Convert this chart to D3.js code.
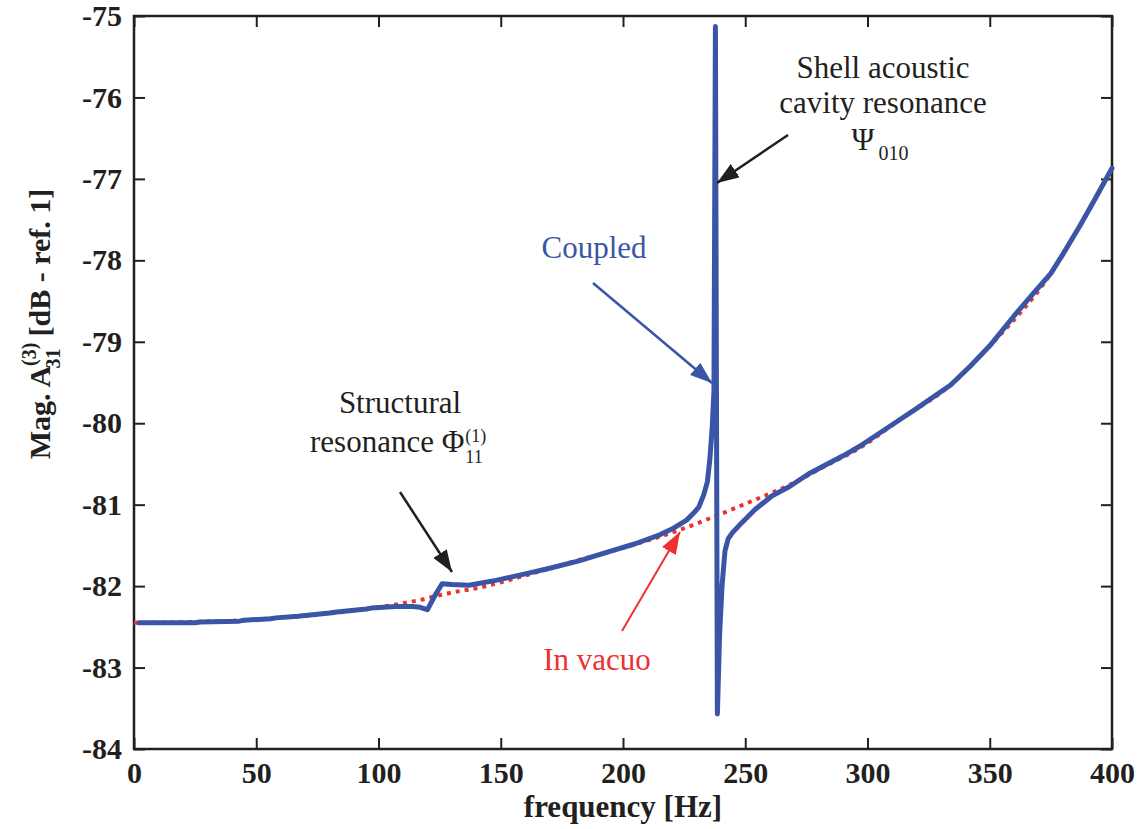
<!DOCTYPE html>
<html lang="en">
<head>
<meta charset="UTF-8">
<script src="https://cdn.jsdelivr.net/npm/d3@7/dist/d3.min.js"></script>
<style>
  body { margin: 0; background: #fff; }
  text { font-family: "Liberation Serif", "Times New Roman", serif; }
</style>
</head>
<body>
<svg id="chart" width="1141" height="829"></svg>
<script>
// coupled response
const coupledFreq = [2, 10, 25, 27, 43, 45, 56, 58, 67, 70, 80, 82, 95, 97, 107, 114, 117, 120, 123, 126, 130, 137, 148, 160, 170, 182, 195, 205, 215, 220, 226, 229, 231, 233, 234.5, 235.5, 236.5, 237.2, 237.8, 238.6, 239.5, 240.5, 241.7, 243, 244.6, 248.3, 254, 261, 268, 276, 283, 290, 297, 305, 313, 320, 334, 342, 350, 360, 368, 375, 380, 387, 393, 400];
const coupledMag = [-82.45, -82.45, -82.45, -82.44, -82.43, -82.42, -82.40, -82.39, -82.37, -82.36, -82.33, -82.32, -82.28, -82.27, -82.25, -82.25, -82.26, -82.29, -82.12, -81.97, -81.98, -81.99, -81.93, -81.85, -81.78, -81.69, -81.57, -81.48, -81.37, -81.30, -81.19, -81.10, -81.03, -80.88, -80.72, -80.45, -80.05, -79.6, -75.13, -83.57, -82.6, -82.0, -81.57, -81.42, -81.35, -81.23, -81.06, -80.89, -80.78, -80.62, -80.51, -80.40, -80.28, -80.12, -79.96, -79.82, -79.53, -79.30, -79.05, -78.68, -78.40, -78.16, -77.92, -77.57, -77.25, -76.87];

// in vacuo response
const vacuoFreq = [0, 25, 50, 75, 100, 117, 128, 141, 160, 182, 200, 225, 237, 254, 268, 283, 297, 313, 334, 350, 375, 387, 400];
const vacuoMag = [-82.45, -82.44, -82.41, -82.35, -82.26, -82.17, -82.09, -82.02, -81.87, -81.68, -81.53, -81.29, -81.15, -80.94, -80.76, -80.52, -80.30, -79.96, -79.53, -79.05, -78.16, -77.57, -76.87];

const xTicks = [0, 50, 100, 150, 200, 250, 300, 350, 400];
const yTicks = [-84, -83, -82, -81, -80, -79, -78, -77, -76, -75];

const svg = d3.select("#chart");
const plotLeft = 134, plotRight = 1112, plotTop = 16, plotBottom = 749;

const x = d3.scaleLinear().domain([0, 400]).range([plotLeft, plotRight]);
const y = d3.scaleLinear().domain([-84, -75]).range([plotBottom, plotTop]);

const ink = "#231f20";
const blue = "#3a55a6";
const red = "#ee3030";
const serif = "'Liberation Serif', 'Times New Roman', serif";

// arrow heads
const defs = svg.append("defs");
function marker(id, color, w, h) {
  defs.append("marker")
    .attr("id", id)
    .attr("markerUnits", "userSpaceOnUse")
    .attr("viewBox", "0 0 " + w + " " + h)
    .attr("refX", w).attr("refY", h / 2)
    .attr("markerWidth", w).attr("markerHeight", h)
    .attr("orient", "auto")
    .append("path")
    .attr("d", "M0,0L" + w + "," + (h / 2) + "L0," + h + "Z")
    .attr("fill", color);
}
marker("arrBlack", ink, 22, 16);
marker("arrBlue", blue, 22, 16);
marker("arrRed", red, 22, 16);

// axes (ticks inward on all four sides), plain hyphen for minus
const tickLen = 11;
const plain = d => String(d);
svg.append("g").attr("transform", "translate(0," + plotBottom + ")")
  .call(d3.axisBottom(x).tickValues(xTicks).tickFormat(plain).tickSizeInner(-tickLen).tickSizeOuter(0).tickPadding(13))
  .call(g => g.selectAll("text").attr("font-size", 30).attr("font-weight", "bold").attr("fill", ink));
svg.append("g").attr("transform", "translate(0," + plotTop + ")")
  .call(d3.axisTop(x).tickValues(xTicks).tickSizeInner(-tickLen).tickSizeOuter(0).tickFormat(""));
svg.append("g").attr("transform", "translate(" + plotLeft + ",0)")
  .call(d3.axisLeft(y).tickValues(yTicks).tickFormat(plain).tickSizeInner(-tickLen).tickSizeOuter(0).tickPadding(12))
  .call(g => g.selectAll("text").attr("font-size", 30).attr("font-weight", "bold").attr("fill", ink));
svg.append("g").attr("transform", "translate(" + plotRight + ",0)")
  .call(d3.axisRight(y).tickValues(yTicks).tickSizeInner(-tickLen).tickSizeOuter(0).tickFormat(""));
svg.selectAll(".domain").remove();
svg.selectAll(".tick line").attr("stroke", ink).attr("stroke-width", 2);
svg.selectAll(".tick text").style("font-family", serif);

svg.append("rect")
  .attr("x", plotLeft).attr("y", plotTop)
  .attr("width", plotRight - plotLeft).attr("height", plotBottom - plotTop)
  .attr("fill", "none").attr("stroke", ink).attr("stroke-width", 2.5);

// curves
const vacuoData = vacuoFreq.map((f, i) => [f, vacuoMag[i]]);
const coupledData = coupledFreq.map((f, i) => [f, coupledMag[i]]);

svg.append("path")
  .datum(vacuoData)
  .attr("d", d3.line().x(d => x(d[0])).y(d => y(d[1])).curve(d3.curveMonotoneX))
  .attr("fill", "none").attr("stroke", red).attr("stroke-width", 4)
  .attr("stroke-dasharray", "4,5");

svg.append("path")
  .datum(coupledData)
  .attr("d", d3.line().x(d => x(d[0])).y(d => y(d[1])))
  .attr("fill", "none").attr("stroke", blue).attr("stroke-width", 5)
  .attr("stroke-linejoin", "round").attr("stroke-linecap", "round");

// annotation arrows
function arrow(x1, y1, x2, y2, color, id, w) {
  svg.append("line")
    .attr("x1", x1).attr("y1", y1).attr("x2", x2).attr("y2", y2)
    .attr("stroke", color).attr("stroke-width", w)
    .attr("marker-end", "url(#" + id + ")");
}
arrow(400, 492, 452, 572, ink, "arrBlack", 2.5);
arrow(788, 135, 717, 183, ink, "arrBlack", 2.5);
arrow(593, 283, 712, 383, blue, "arrBlue", 2.5);
arrow(622, 631, 680, 532, red, "arrRed", 2);

// annotation labels
const note = svg.append("g").attr("font-size", 31).attr("fill", ink).attr("text-anchor", "middle");
note.append("text").attr("x", 883).attr("y", 78).text("Shell acoustic");
note.append("text").attr("x", 883).attr("y", 113).text("cavity resonance");
const psi = note.append("text").attr("x", 880).attr("y", 150);
psi.append("tspan").text("Ψ");
psi.append("tspan").attr("font-size", 20).attr("dy", 10).attr("dx", 4).text("010");

note.append("text").attr("x", 400).attr("y", 413).text("Structural");
const phi = note.append("text").attr("x", 310).attr("y", 452).attr("text-anchor", "start");
phi.append("tspan").text("resonance Φ");
phi.append("tspan").attr("font-size", 18).attr("dy", -10).attr("dx", 1).text("(1)");
phi.append("tspan").attr("font-size", 18).attr("dy", 21).attr("dx", -21).text("11");

note.append("text").attr("x", 594).attr("y", 258).attr("fill", blue).text("Coupled");
note.append("text").attr("x", 597).attr("y", 670).attr("fill", red).text("In vacuo");

// axis titles
svg.append("text")
  .attr("x", (plotLeft + plotRight) / 2).attr("y", 817)
  .attr("text-anchor", "middle").attr("font-size", 31).attr("font-weight", "bold").attr("fill", ink)
  .text("frequency [Hz]");

const yTitle = svg.append("text")
  .attr("transform", "translate(50,324) rotate(-90)")
  .attr("text-anchor", "middle").attr("font-size", 30).attr("font-weight", "bold").attr("fill", ink);
yTitle.append("tspan").text("Mag. A");
yTitle.append("tspan").attr("font-size", 20).attr("dy", -14).text("(3)");
yTitle.append("tspan").attr("font-size", 20).attr("dy", 24).attr("dx", -26).text("31");
yTitle.append("tspan").attr("dy", -10).attr("dx", 12).text("[dB - ref. 1]");
</script>
</body>
</html>
